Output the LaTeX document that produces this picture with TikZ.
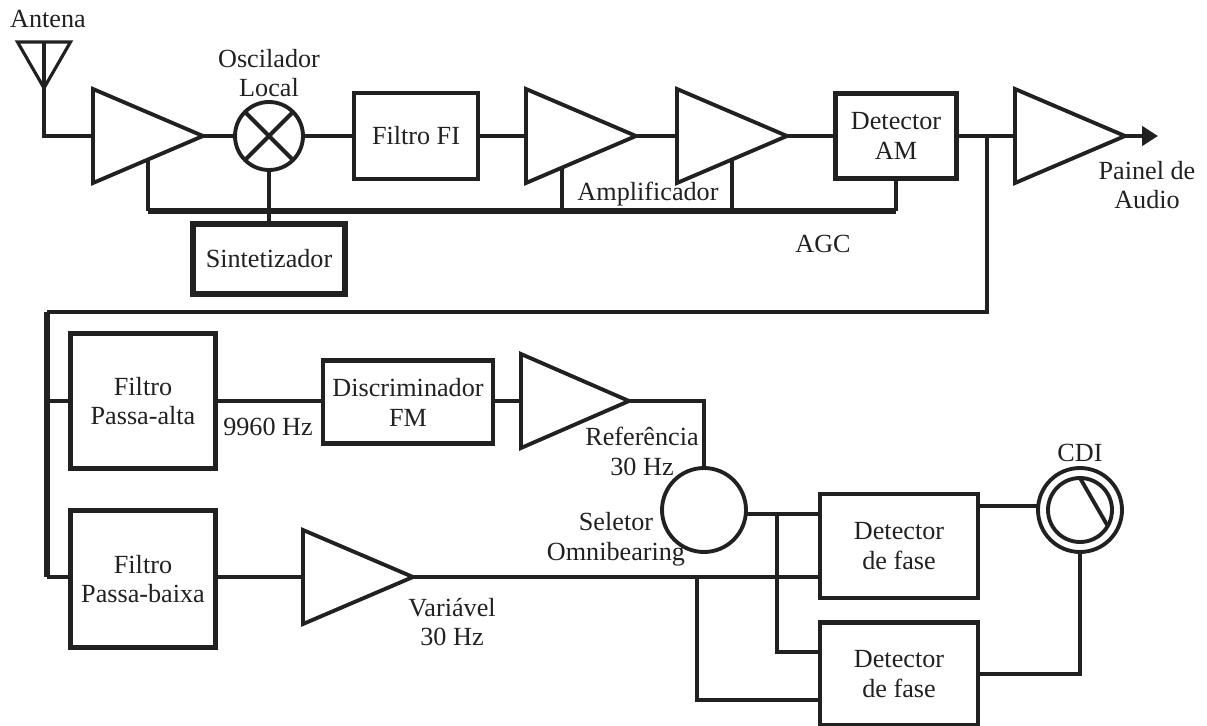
\documentclass[tikz,border=0pt]{standalone}
\usepackage{fontspec}
\setmainfont{Liberation Serif}
\usepackage{tikz}
\usetikzlibrary{positioning, arrows.meta, shapes, calc}
\usepackage{xcolor}
\definecolor{linha}{gray}{0.13}

\tikzset{
  fio/.style={draw=linha, line width=2.3pt},
  barra/.style={draw=linha, line width=2.9pt},
  caixa/.style={draw=linha, line width=2.7pt, fill=white, inner sep=0pt, outer sep=0pt, align=center},
  caixagrossa/.style={caixa, line width=3pt},
  amp/.style={draw=linha, line width=2.2pt, isosceles triangle, isosceles triangle stretches, shape border rotate=0,
    minimum width=1.88cm, minimum height=2.2cm, inner sep=0pt, outer sep=0pt, anchor=apex},
  disco/.style={draw=linha, line width=2.2pt, circle, inner sep=0pt, outer sep=0pt},
  rotulo/.style={text=linha, align=center, inner sep=0pt},
  every node/.append style={font=\fontsize{14.9}{17}\selectfont, text=linha}
}

\begin{document}
\begin{tikzpicture}[x=0.02cm, y=-0.02cm]
\useasboundingbox (0, 0) rectangle (1207, 726);

% Linha superior
\node[draw=linha, line width=1.8pt, isosceles triangle, isosceles triangle stretches, shape border rotate=270,
  minimum width=1.06cm, minimum height=0.92cm, inner sep=0pt, outer sep=0pt, anchor=apex] (antena) at (44, 88) {};
\node[rotulo] (lantena) at (48, 19) {Antena};
\node[amp] (amp1) at (203, 136) {};
\node[disco, minimum size=1.36cm] (osc) at (269, 136) {};
\node[rotulo] (losc) at (269, 73) {Oscilador\\Local};
\node[caixa, minimum width=2.48cm, minimum height=1.72cm] (fi) at (416, 136) {Filtro FI};
\node[amp] (amp2) at (636, 136) {};
\node[amp] (amp3) at (787, 136) {};
\node[caixa, minimum width=2.42cm, minimum height=1.7cm] (detam) at (896, 136) {Detector\\AM};
\node[amp] (amp4) at (1125, 136) {};
\node[rotulo] (lpainel) at (1147, 185) {Painel de\\Audio};
\node[caixagrossa, minimum width=3.04cm, minimum height=1.4cm] (sint) at (269, 259) {Sintetizador};
\node[rotulo] (lampl) at (648, 194) {Amplificador};
\node[rotulo] (lagc) at (823, 244) {AGC};

\coordinate (saida) at (1158, 136);
\coordinate (audiotap) at (987, 136);
\coordinate (vortap) at (47, 312);
\coordinate (agcbus) at (149, 211);
\coordinate (stem2) at ($(amp2.right corner)!0.33!(amp2.apex)$);

\draw[fio] (antena.lower side) -- (antena.apex) |- (amp1.lower side);
\draw[fio] (amp1.apex) -- (osc.west);
\draw[fio] (osc.45) -- (osc.225);
\draw[fio] (osc.135) -- (osc.315);
\draw[fio] (osc.east) -- (fi.west);
\draw[fio] (fi.east) -- (amp2.lower side);
\draw[fio] (amp2.apex) -- (amp3.lower side);
\draw[fio] (amp3.apex) -- (detam.west);
\draw[fio] (detam.east) -- (amp4.lower side);
\draw[fio, -{Triangle[length=9pt, width=10.8pt]}] (amp4.apex) -- (saida);

% AGC
\draw[fio] (amp1.right side) -- (amp1.right side |- agcbus);
\draw[barra] (amp1.right side |- agcbus) -- (agcbus -| detam.south);
\draw[fio] (agcbus -| detam.south) -- (detam.south);
\draw[fio] (osc.south) -- (sint.north);
\draw[fio] (stem2) -- (stem2 |- agcbus);
\draw[fio] (amp3.right side) -- (amp3.right side |- agcbus);

% Linha do meio
\node[caixagrossa, minimum width=2.9cm, minimum height=2.7cm] (palta) at (143, 401) {Filtro\\Passa-alta};
\node[caixa, minimum width=3.4cm, minimum height=1.66cm] (disc) at (408, 402) {Discriminador\\FM};
\node[amp, minimum height=2.16cm] (amp5) at (629, 401) {};
\node[rotulo] (lhz) at (268, 427) {9960 Hz};
\node[rotulo] (lref) at (642, 451) {Refer\^encia\\30 Hz};
\node[disco, minimum size=1.68cm] (sel) at (704, 510) {};
\node[rotulo] (lsel) at (616, 539) {Seletor\\Omnibearing};
\node[rotulo] (lcdi) at (1080, 453) {CDI};
\node[disco, minimum size=1.68cm] (cdi) at (1080, 510) {};
\node[disco, minimum size=1.28cm] (cdiint) at (1080, 510) {};

\draw[fio] (audiotap) |- (vortap);
\draw[fio] (palta.east) -- (palta.east -| disc.west);
\draw[fio] (disc.east |- amp5.lower side) -- (amp5.lower side);
\draw[fio] (amp5.apex) -| (sel.north);
\draw[line width=2.2pt, draw=linha] (cdiint.north) -- (cdiint.-30);

% Linha inferior
\node[caixagrossa, minimum width=2.9cm, minimum height=2.74cm] (pbaixa) at (143, 579) {Filtro\\Passa-baixa};
\node[amp] (amp6) at (413, 577) {};
\node[rotulo] (lvar) at (452, 622) {Vari\'avel\\30 Hz};
\node[caixa, minimum width=3.16cm, minimum height=2.08cm] (det1) at (899, 546) {Detector\\de fase};
\node[caixa, minimum width=3.16cm, minimum height=2.06cm] (det2) at (899, 674) {Detector\\de fase};

\coordinate (reftap) at (777, 515);
\coordinate (vartap) at (697, 577);

\draw[barra] (vortap) -- (vortap |- amp6.lower side);
\draw[fio] (vortap |- amp6.lower side) -- (pbaixa.west |- amp6.lower side);
\draw[fio] (vortap |- palta.west) -- (palta.west);
\draw[fio] (pbaixa.east |- amp6.lower side) -- (amp6.lower side);
\draw[fio] (amp6.apex) -- (det1.west |- vartap);
\draw[fio] (sel.-6) -- (sel.-6 -| det1.west);
\draw[fio] (reftap) |- ($(det2.west)+(0,-22)$);
\draw[fio] (vartap) |- ($(det2.west)+(0,26)$);
\draw[fio] (cdi.174) -- (cdi.174 -| det1.east);
\draw[fio] (cdi.south) |- (det2.east);
\end{tikzpicture}
\end{document}
